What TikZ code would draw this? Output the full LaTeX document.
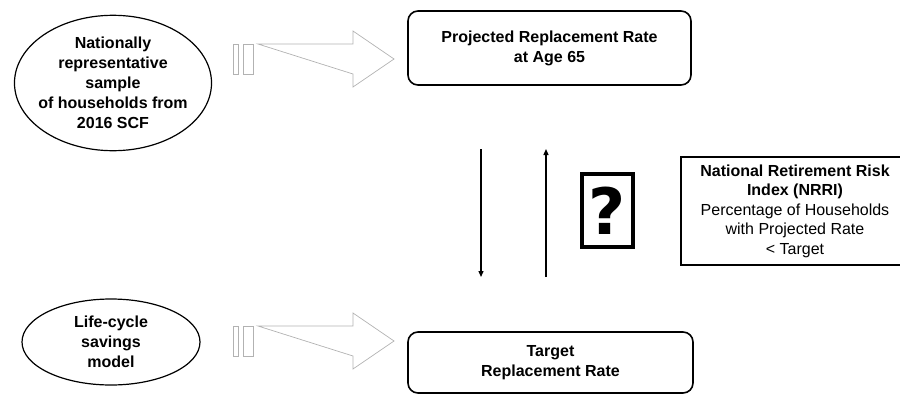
\documentclass[tikz,border=0pt]{standalone}
\usepackage{fontspec}
\setmainfont{Liberation Sans}
\newfontfamily\qmarkfont{DejaVu Sans}
\usetikzlibrary{shapes.geometric,arrows.meta}

\begin{document}
\begin{tikzpicture}[x=1pt, y=-1pt,
	>={Triangle[length=6pt,width=5pt]},
	ovalnode/.style={ellipse, draw, line width=1.2pt, align=center, inner xsep=-5pt, inner ysep=2pt, font=\fontsize{16}{20}\selectfont\bfseries},
	ratenode/.style={rectangle, rounded corners=10pt, draw, line width=1.6pt, align=center, font=\fontsize{16}{20}\selectfont\bfseries},
	qnode/.style={rectangle, draw, line width=3.5pt, inner sep=0pt, minimum width=51pt, minimum height=73pt},
	indexnode/.style={rectangle, draw, line width=1.8pt, align=center, minimum width=228pt, minimum height=108pt, font=\fontsize{16}{19.5}\selectfont},
	hollow/.style={draw=black!30, line width=0.7pt},
	flow/.style={->, line width=1.3pt},
	]
	\useasboundingbox (0,0) rectangle (900,394);
	
	%Nodes
	\node[ovalnode]	(sample)	at (113,83)		{Nationally\\representative\\sample\\of households from\\2016 SCF};
	\node[ovalnode, minimum width=178pt, minimum height=86pt]	(lifecycle)	at (111,342)	{Life-cycle\\savings\\model};
	\node[ratenode, minimum width=283pt, minimum height=74pt]	(projected)	at (549.5,48)	{Projected Replacement Rate\\at Age 65};
	\node[ratenode, minimum width=285pt, minimum height=61pt]	(target)	at (550.5,362.5)	{Target\\Replacement Rate};
	\node[qnode]	(question)	at (607.5,210.5)	{\qmarkfont\bfseries\fontsize{64}{64}\selectfont ?};
	\node[indexnode]	(nrri)	at (795,211)	{\textbf{National Retirement Risk}\\\textbf{Index (NRRI)}\\Percentage of Households\\with Projected Rate\\< Target};
	
	\coordinate (downtop)	at (481,149);
	\coordinate (downend)	at (481,277);
	\coordinate (upstart)	at (546,277);
	\coordinate (upend)		at (546,149);
	
	%Hollow arrows
	\draw[hollow] (233,44) rectangle (238,74);
	\draw[hollow] (243,44) rectangle (253,74);
	\draw[hollow] (258,44) -- (353,44) -- (353,31) -- (394,59) -- (353,87) -- (353,74) -- cycle;
	
	\draw[hollow] (233,326) rectangle (238,356);
	\draw[hollow] (243,326) rectangle (253,356);
	\draw[hollow] (258,326) -- (353,326) -- (353,313) -- (394,341) -- (353,369) -- (353,356) -- cycle;
	
	%Lines
	\draw[flow] (downtop) -- (downend);
	\draw[flow] (upstart) -- (upend);
	
\end{tikzpicture}
\end{document}
